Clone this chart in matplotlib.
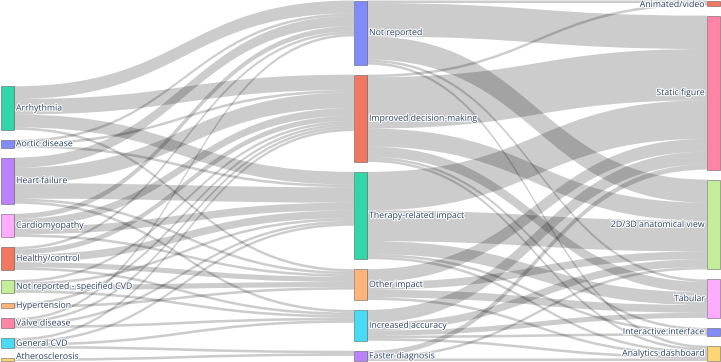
import matplotlib
matplotlib.use("Agg")
import matplotlib.pyplot as plt
from matplotlib.path import Path
from matplotlib.patches import PathPatch, Rectangle
import matplotlib.patheffects as pe

# nodes, one list per column
conditions = ["Arrhythmia", "Aortic disease", "Heart failure", "Cardiomyopathy", "Healthy/control",
              "Not reported - specified CVD", "Hypertension", "Valve disease", "General CVD",
              "Atherosclerosis"]
impacts = ["Not reported", "Improved decision-making", "Therapy-related impact", "Other impact",
           "Increased accuracy", "Faster diagnosis"]
formats = ["Animated/video", "Static figure", "2D/3D anatomical view", "Tabular",
           "Interactive interface", "Analytics dashboard"]

cond_colors = ["#00cc96", "#636efa", "#ab63fa", "#ff97ff", "#ef553b", "#b6e880", "#ffa15a",
               "#ff6692", "#19d3f3", "#fecb52"]
impact_colors = ["#636efa", "#ef553b", "#00cc96", "#ffa15a", "#19d3f3", "#ab63fa"]
format_colors = ["#ef553b", "#ff6692", "#b6e880", "#ff97ff", "#636efa", "#fecb52"]

# condition -> clinical impact (number of studies)
cond_links = [
    ("Arrhythmia", "Not reported", 5), ("Arrhythmia", "Improved decision-making", 6),
    ("Arrhythmia", "Therapy-related impact", 5), ("Arrhythmia", "Other impact", 1),
    ("Aortic disease", "Not reported", 1), ("Aortic disease", "Improved decision-making", 1),
    ("Aortic disease", "Therapy-related impact", 1),
    ("Heart failure", "Not reported", 4), ("Heart failure", "Improved decision-making", 6),
    ("Heart failure", "Therapy-related impact", 6), ("Heart failure", "Other impact", 1),
    ("Heart failure", "Increased accuracy", 1),
    ("Cardiomyopathy", "Not reported", 2), ("Cardiomyopathy", "Improved decision-making", 3),
    ("Cardiomyopathy", "Therapy-related impact", 3), ("Cardiomyopathy", "Other impact", 1),
    ("Healthy/control", "Not reported", 1), ("Healthy/control", "Improved decision-making", 2),
    ("Healthy/control", "Therapy-related impact", 3), ("Healthy/control", "Other impact", 2),
    ("Healthy/control", "Increased accuracy", 1),
    ("Not reported - specified CVD", "Improved decision-making", 1),
    ("Not reported - specified CVD", "Therapy-related impact", 1),
    ("Not reported - specified CVD", "Other impact", 2),
    ("Not reported - specified CVD", "Increased accuracy", 1),
    ("Hypertension", "Improved decision-making", 1), ("Hypertension", "Other impact", 1),
    ("Valve disease", "Not reported", 1), ("Valve disease", "Improved decision-making", 1),
    ("Valve disease", "Therapy-related impact", 1), ("Valve disease", "Increased accuracy", 1),
    ("General CVD", "Improved decision-making", 1), ("General CVD", "Therapy-related impact", 1),
    ("General CVD", "Increased accuracy", 1), ("General CVD", "Faster diagnosis", 1),
    ("Atherosclerosis", "Faster diagnosis", 1),
]

# clinical impact -> output format
impact_links = [
    ("Not reported", "Animated/video", 1), ("Not reported", "Static figure", 13),
    ("Not reported", "2D/3D anatomical view", 9), ("Not reported", "Tabular", 1),
    ("Not reported", "Analytics dashboard", 1),
    ("Improved decision-making", "Animated/video", 1), ("Improved decision-making", "Static figure", 20),
    ("Improved decision-making", "2D/3D anatomical view", 7), ("Improved decision-making", "Tabular", 4),
    ("Improved decision-making", "Interactive interface", 1),
    ("Improved decision-making", "Analytics dashboard", 1),
    ("Therapy-related impact", "Static figure", 15), ("Therapy-related impact", "2D/3D anatomical view", 12),
    ("Therapy-related impact", "Tabular", 5), ("Therapy-related impact", "Interactive interface", 1),
    ("Therapy-related impact", "Analytics dashboard", 1),
    ("Other impact", "Static figure", 5), ("Other impact", "2D/3D anatomical view", 3),
    ("Other impact", "Tabular", 3), ("Other impact", "Analytics dashboard", 1),
    ("Increased accuracy", "Static figure", 5), ("Increased accuracy", "2D/3D anatomical view", 3),
    ("Increased accuracy", "Tabular", 2), ("Increased accuracy", "Interactive interface", 1),
    ("Increased accuracy", "Analytics dashboard", 1),
    ("Faster diagnosis", "Static figure", 2), ("Faster diagnosis", "2D/3D anatomical view", 1),
    ("Faster diagnosis", "Analytics dashboard", 1),
]

W, H = 721, 362
pad = 10
node_w = 13
y_top, y_bot = 0.5, 361.0
x_left, x_right = 1.0, 720.0

columns = [conditions, impacts, formats]
colors = [cond_colors, impact_colors, format_colors]
links = cond_links + impact_links

# node value = max(inflow, outflow)
inflow = {}
outflow = {}
for s, t, v in links:
    outflow[s] = outflow.get(s, 0) + v
    inflow[t] = inflow.get(t, 0) + v
value = {}
for col in columns:
    for n in col:
        value[n] = max(inflow.get(n, 0), outflow.get(n, 0))

scale = min((y_bot - y_top - pad * (len(col) - 1)) / sum(value[n] for n in col) for col in columns)

# place nodes: first column sits at the bottom, the others start at the top
pos = {}
step = (x_right - x_left - node_w) / (len(columns) - 1)
for ci, col in enumerate(columns):
    x0 = x_left + ci * step
    total = sum(value[n] for n in col) * scale + pad * (len(col) - 1)
    y = y_bot - total if ci == 0 else y_top
    for n in col:
        h = value[n] * scale
        pos[n] = (x0, y, h)
        y += h + pad

# link offsets at both ends, ordered by the other end's position
src_off = {}
tgt_off = {}
for n in value:
    out_l = sorted([l for l in links if l[0] == n], key=lambda l: pos[l[1]][1])
    y = pos[n][1]
    for l in out_l:
        src_off[l] = y
        y += l[2] * scale
    in_l = sorted([l for l in links if l[1] == n], key=lambda l: pos[l[0]][1])
    y = pos[n][1]
    for l in in_l:
        tgt_off[l] = y
        y += l[2] * scale

fig = plt.figure(figsize=(W / 100, H / 100), dpi=100)
ax = fig.add_axes([0, 0, 1, 1])
ax.set_xlim(0, W)
ax.set_ylim(H, 0)
ax.axis("off")

for l in links:
    s, t, v = l
    x1 = pos[s][0] + node_w
    x2 = pos[t][0]
    xm = (x1 + x2) / 2
    w = v * scale
    ys = src_off[l]
    yt = tgt_off[l]
    verts = [(x1, ys), (xm, ys), (xm, yt), (x2, yt),
             (x2, yt + w),
             (xm, yt + w), (xm, ys + w), (x1, ys + w),
             (x1, ys)]
    codes = [Path.MOVETO, Path.CURVE4, Path.CURVE4, Path.CURVE4,
             Path.LINETO,
             Path.CURVE4, Path.CURVE4, Path.CURVE4,
             Path.CLOSEPOLY]
    ax.add_patch(PathPatch(Path(verts, codes), facecolor=(0, 0, 0, 0.2), edgecolor="none", lw=0))

halo = [pe.withStroke(linewidth=1.5, foreground="white")]
for ci, col in enumerate(columns):
    for n, c in zip(col, colors[ci]):
        x0, y0, h = pos[n]
        ax.add_patch(Rectangle((x0, y0), node_w, h, facecolor=c, alpha=0.8,
                               edgecolor="#444444", lw=0.4))
        # keep labels of the edge nodes inside the picture
        yc = min(max(y0 + h / 2, 4.5), H - 5.5)
        if ci < 2:
            ax.text(x0 + node_w + 2, yc, n, ha="left", va="center", fontsize=6.3,
                    family="Open Sans", color="#2a3f5f", path_effects=halo)
        else:
            ax.text(x0 - 2, yc, n, ha="right", va="center", fontsize=6.3,
                    family="Open Sans", color="#2a3f5f", path_effects=halo)

fig.savefig("out.png", dpi=100)
